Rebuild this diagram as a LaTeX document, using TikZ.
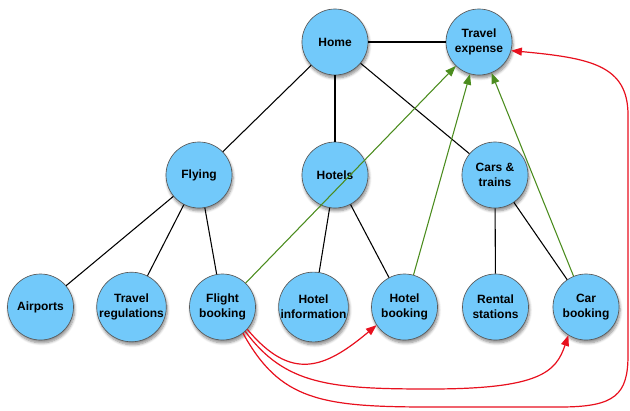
\documentclass[tikz,border=0pt]{standalone}
\usepackage{fontspec}
\setmainfont{Liberation Sans}
\usetikzlibrary{arrows.meta,shadows.blur}
\definecolor{nodeblue}{RGB}{114,201,250}
\definecolor{refgreen}{RGB}{75,140,30}
\definecolor{flowred}{RGB}{232,16,30}
\begin{document}
\begin{tikzpicture}[x=0.75pt,y=-0.75pt,
  topic/.style={circle, minimum size=49.5pt, inner sep=0pt, fill=nodeblue, draw=black!65, line width=0.5pt,
    font=\bfseries\fontsize{9}{11}\selectfont, align=center,
    blur shadow={shadow xshift=0.8pt, shadow yshift=-2.2pt, shadow blur steps=6, shadow blur radius=2pt, shadow opacity=45}},
  link/.style={line width=0.8pt, black},
  refarrow/.style={line width=0.8pt, refgreen, -{Triangle[length=8pt,width=6pt]}},
  flow/.style={line width=0.9pt, flowred, -{Triangle[length=8pt,width=6pt]}}
]
\useasboundingbox (0,0) rectangle (630,410);
% nodes
\node[topic] (home) at (335,42) {Home};
\node[topic] (te) at (479,42) {Travel\\expense};
\node[topic] (fly) at (199,175) {Flying};
\node[topic] (hot) at (335,175) {Hotels};
\node[topic] (car) at (495,175) {Cars \&\\trains};
\node[topic] (air) at (40.5,307) {Airports};
\node[topic] (reg) at (131.5,307) {Travel\\regulations};
\node[topic] (fb) at (222.5,307) {Flight\\booking};
\node[topic] (hi) at (313.5,307) {Hotel\\information};
\node[topic] (hb) at (404.5,307) {Hotel\\booking};
\node[topic] (rs) at (495.5,307) {Rental\\stations};
\node[topic] (cb) at (586,307) {Car\\booking};
% hierarchy links
\draw[link] (home) -- (te);
\draw[link] (home) -- (fly);
\draw[link] (home) -- (hot);
\draw[link] (home) -- (car);
\draw[link] (fly) -- (air);
\draw[link] (fly) -- (reg);
\draw[link] (fly) -- (fb);
\draw[link] (hot) -- (hi);
\draw[link] (hot) -- (hb);
\draw[link] (car) -- (rs);
\draw[link] (car) -- (cb);
% green references
\draw[refarrow] (fb) -- (te);
\draw[refarrow] (hb) -- (te);
\draw[refarrow] (cb) -- (te);
% red flows
\draw[flow] (fb.-42) to[out=-50,in=-140,looseness=1.35] (hb.-147);
\draw[flow] (fb.-47) .. controls (285,385) and (330,389) .. (430,389)
  .. controls (540,389) and (556,372) .. (cb.-122);
\draw[flow] (fb.-52) .. controls (280,400) and (320,407) .. (430,407)
  -- (560,407) .. controls (615,407) and (628,395) .. (628,355)
  -- (628,115) .. controls (628,65) and (590,58) .. (te.-15);
\end{tikzpicture}
\end{document}
